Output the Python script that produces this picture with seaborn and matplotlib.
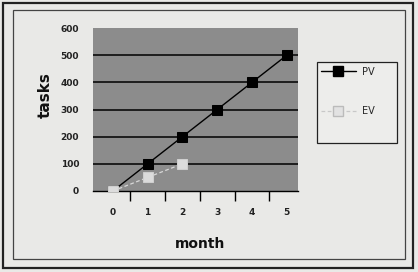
import matplotlib
matplotlib.use("Agg")
import matplotlib.pyplot as plt
import seaborn as sns
import pandas as pd
from matplotlib.patches import Rectangle
from matplotlib.lines import Line2D

months = [0, 1, 2, 3, 4, 5]
pv = [0, 100, 200, 300, 400, 500]
ev_months = [0, 1, 2]
ev = [0, 50, 100]
yticks = [0, 100, 200, 300, 400, 500, 600]

sns.set_theme(style="white")
plt.rcParams['font.family'] = ['DejaVu Sans']

W, H = 418, 272
fig = plt.figure(figsize=(W / 100, H / 100), dpi=100)
fig.patch.set_facecolor('#e9e9e7')

def fx(px):
    return px / W

def fy(py):
    return 1 - py / H

# frames
fig.patches.append(Rectangle((fx(3), fy(268)), fx(413) - fx(3), fy(3) - fy(268),
                             transform=fig.transFigure, fill=False, edgecolor='#222222', lw=1.6))
fig.patches.append(Rectangle((fx(13), fy(259)), fx(405) - fx(13), fy(10) - fy(259),
                             transform=fig.transFigure, fill=False, edgecolor='#444444', lw=0.9))

ax = fig.add_axes([fx(93), fy(191), fx(298) - fx(93), fy(28) - fy(191)])
ax.set_facecolor('#8c8c8c')

df_pv = pd.DataFrame({'month': months, 'tasks': pv})
df_ev = pd.DataFrame({'month': ev_months, 'tasks': ev})

sns.lineplot(data=df_pv, x='month', y='tasks', ax=ax, color='black', lw=1.0,
             marker='s', markersize=7.5, markerfacecolor='black', markeredgecolor='black', zorder=3)
sns.lineplot(data=df_ev, x='month', y='tasks', ax=ax, color='#d8d8d8', lw=0.9, linestyle=(0, (3, 2)),
             marker='s', markersize=7.5, markerfacecolor='#dcdcdc', markeredgecolor='#cfcfcf', zorder=3)

ax.set_xlim(-0.57, 5.32)
ax.set_ylim(0, 600)
ax.set_yticks(yticks)
ax.set_yticklabels([str(v) for v in yticks], fontsize=6.5, fontweight='bold', color='#222222')
for v in yticks[1:-1]:
    ax.axhline(v, color='black', lw=1.1, zorder=1)

ax.set_xticks([m + 0.5 for m in months[:-1]])
ax.set_xticklabels([])
ax.tick_params(axis='x', direction='out', length=7, width=1.0, color='black', bottom=True)
ax.tick_params(axis='y', length=0, pad=10)
for m in months:
    ax.text(m, -0.13, str(m), transform=ax.get_xaxis_transform(), ha='center', va='center',
            fontsize=6.5, fontweight='bold', color='#222222')

for s in ['top', 'right', 'left']:
    ax.spines[s].set_visible(False)
ax.spines['bottom'].set_color('black')
ax.spines['bottom'].set_linewidth(1.0)

ax.set_xlabel('')
ax.set_ylabel('')
fig.text(fx(45), fy(95), 'tasks', rotation=90, ha='center', va='center', fontsize=11, fontweight='bold', color='#111111')
fig.text(fx(200), fy(244), 'month', ha='center', va='center', fontsize=10, fontweight='bold', color='#111111')

# legend box
fig.patches.append(Rectangle((fx(317), fy(143)), fx(397) - fx(317), fy(62) - fy(143),
                             transform=fig.transFigure, facecolor='#ededeb', edgecolor='#222222', lw=0.9))
handles = [Line2D([], [], color='black', lw=1.0, marker='s', markersize=7, markerfacecolor='black'),
           Line2D([], [], color='#c8c8c8', lw=0.9, linestyle=(0, (3, 2)), marker='s', markersize=7,
                  markerfacecolor='#e2e2e2', markeredgecolor='#bbbbbb')]
fig.legend(handles, ['PV', 'EV'], loc='upper left', bbox_to_anchor=(fx(316), fy(62)),
           bbox_transform=fig.transFigure, frameon=False, fontsize=7, labelspacing=3.0,
           handlelength=3.6, handletextpad=0.6, borderaxespad=0, borderpad=0.5)
if ax.legend_:
    ax.legend_.remove()

fig.savefig('out.png', dpi=100, facecolor=fig.get_facecolor())
